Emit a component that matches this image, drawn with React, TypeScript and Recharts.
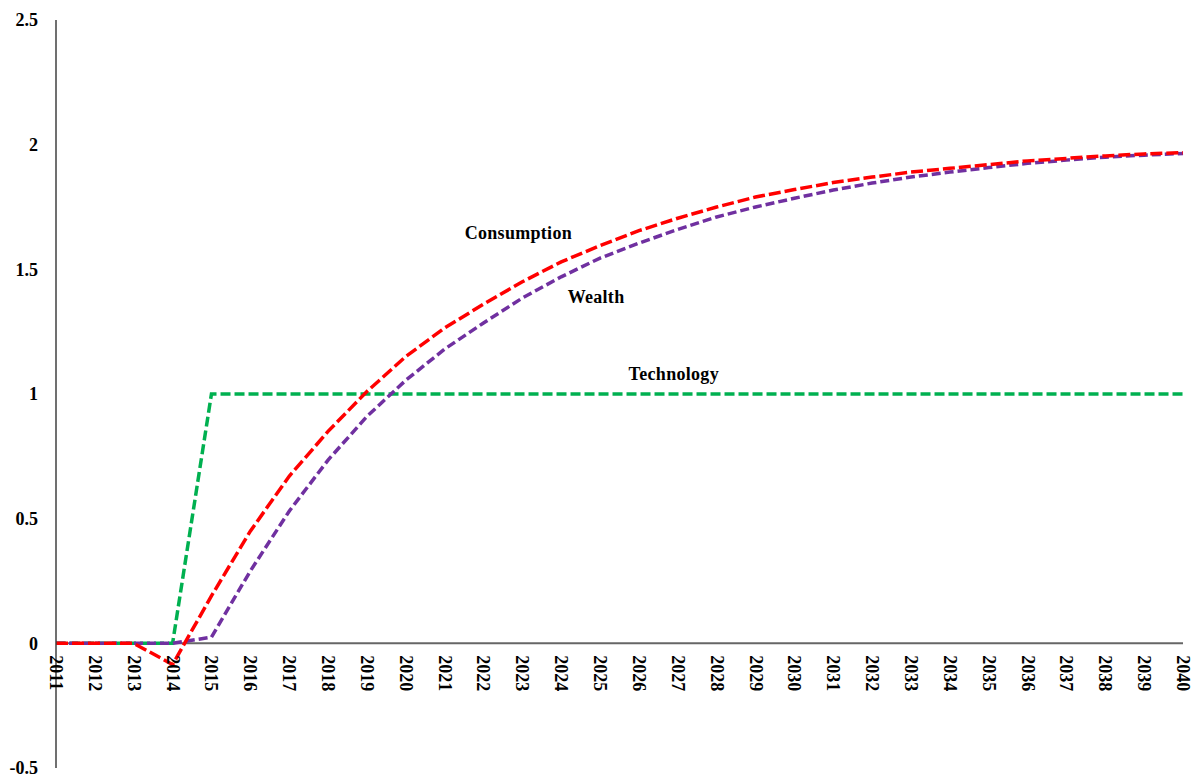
import React from "react";
import {
  LineChart,
  Line,
  XAxis,
  YAxis,
  ReferenceLine,
  ReferenceDot,
} from "recharts";

const years = [
  "2011", "2012", "2013", "2014", "2015", "2016", "2017", "2018", "2019", "2020",
  "2021", "2022", "2023", "2024", "2025", "2026", "2027", "2028", "2029", "2030",
  "2031", "2032", "2033", "2034", "2035", "2036", "2037", "2038", "2039", "2040",
];

const consumption = [
  0, 0, 0, -0.085, 0.19, 0.45, 0.67, 0.85, 1.01, 1.15,
  1.265, 1.36, 1.45, 1.53, 1.595, 1.655, 1.705, 1.75, 1.79, 1.82,
  1.848, 1.87, 1.89, 1.905, 1.92, 1.935, 1.945, 1.955, 1.963, 1.968,
];

const wealth = [
  0, 0, 0, 0, 0.025, 0.29, 0.53, 0.735, 0.91, 1.055,
  1.18, 1.285, 1.385, 1.47, 1.545, 1.605, 1.66, 1.71, 1.75, 1.785,
  1.818, 1.846, 1.87, 1.89, 1.908, 1.925, 1.938, 1.95, 1.958, 1.965,
];

const technology = [
  0, 0, 0, 0, 1, 1, 1, 1, 1, 1,
  1, 1, 1, 1, 1, 1, 1, 1, 1, 1,
  1, 1, 1, 1, 1, 1, 1, 1, 1, 1,
];

const yTicks = [-0.5, 0, 0.5, 1, 1.5, 2, 2.5];

// series name labels placed next to the curves
const seriesLabels = [
  { text: "Consumption", year: "2023", value: 1.645 },
  { text: "Wealth", year: "2025", value: 1.39 },
  { text: "Technology", year: "2027", value: 1.08 },
];

const data = years.map((year, i) => ({
  year,
  consumption: consumption[i],
  wealth: wealth[i],
  technology: technology[i],
}));

const FONT = "'Liberation Serif', 'Times New Roman', serif";
const WIDTH = 1200;
const HEIGHT = 780;
const MARGIN = { top: 20, right: 17, left: 0, bottom: 0 };
const X_AXIS_H = 12;
const Y_MIN = -0.5;
const Y_MAX = 2.5;
const PLOT_H = HEIGHT - MARGIN.top - MARGIN.bottom - X_AXIS_H;
// year labels sit just under the zero line, not at the bottom of the plot
const ZERO_Y = MARGIN.top + (PLOT_H * (Y_MAX - 0)) / (Y_MAX - Y_MIN);

function YearTick(props: any) {
  const { x, payload } = props;
  return (
    <text
      transform={`translate(${x},${ZERO_Y + 12}) rotate(90)`}
      textAnchor="start"
      dominantBaseline="central"
      fontFamily={FONT}
      fontWeight="bold"
      fontSize={18}
      fill="#000"
    >
      {payload.value}
    </text>
  );
}

function SeriesLabel(text: string) {
  return (props: any) => {
    const vb = props.viewBox || {};
    const cx = (vb.x ?? 0) + (vb.width ?? 0) / 2;
    const cy = (vb.y ?? 0) + (vb.height ?? 0) / 2;
    return (
      <text
        x={cx - 4}
        y={cy}
        textAnchor="middle"
        dominantBaseline="central"
        fontFamily={FONT}
        fontWeight="bold"
        fontSize={18}
        letterSpacing={0.3}
        fill="#000"
      >
        {text}
      </text>
    );
  };
}

export default function App() {
  return (
    <div style={{ position: "absolute", left: 0, top: 0, background: "#fff" }}>
      <LineChart width={WIDTH} height={HEIGHT} data={data} margin={MARGIN}>
        <XAxis
          dataKey="year"
          height={X_AXIS_H}
          axisLine={false}
          tickLine={false}
          interval={0}
          tick={<YearTick />}
        />
        <YAxis
          width={56}
          domain={[Y_MIN, Y_MAX]}
          ticks={yTicks}
          allowDataOverflow
          tickLine={false}
          tickSize={0}
          tickMargin={18}
          axisLine={{ stroke: "#404040", strokeWidth: 1.5 }}
          tick={{ fill: "#000", fontFamily: FONT, fontWeight: "bold", fontSize: 18 }}
        />
        <ReferenceLine y={0} stroke="#666666" strokeWidth={2} />
        <Line
          type="linear"
          dataKey="technology"
          stroke="#00B050"
          strokeWidth={3.5}
          strokeDasharray="10 4"
          dot={false}
          isAnimationActive={false}
        />
        <Line
          type="linear"
          dataKey="wealth"
          stroke="#7030A0"
          strokeWidth={3.5}
          strokeDasharray="9 4"
          dot={false}
          isAnimationActive={false}
        />
        <Line
          type="linear"
          dataKey="consumption"
          stroke="#FF0000"
          strokeWidth={3.5}
          strokeDasharray="12 4"
          dot={false}
          isAnimationActive={false}
        />
        {seriesLabels.map((l) => (
          <ReferenceDot
            key={l.text}
            x={l.year}
            y={l.value}
            r={0}
            fill="none"
            stroke="none"
            label={SeriesLabel(l.text)}
          />
        ))}
      </LineChart>
    </div>
  );
}
